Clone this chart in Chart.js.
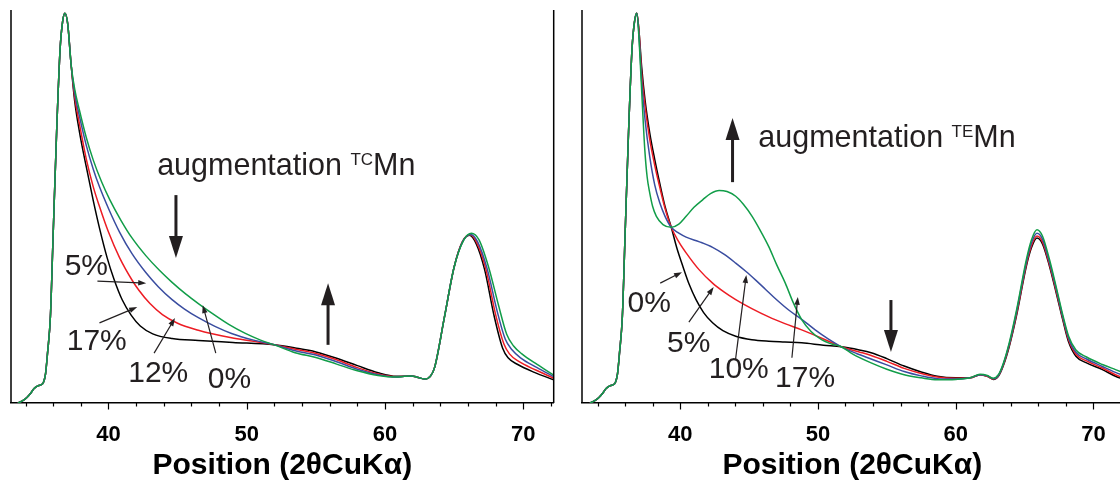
<!DOCTYPE html>
<html><head><meta charset="utf-8">
<script src="https://cdn.jsdelivr.net/npm/chart.js@4/dist/chart.umd.min.js"></script>
<style>
html,body{margin:0;padding:0;background:#fff;overflow:hidden;width:1120px;height:485px;position:relative}
#c1{position:absolute;left:0;top:0}
#c2{position:absolute;left:570px;top:0}
</style></head>
<body>
<canvas id="c1" width="570" height="485"></canvas>
<canvas id="c2" width="570" height="485"></canvas>
<script>
// ---------- DATA ----------
const seriesNames = ['0%', '5%', '12%', '17%'];
const seriesColors = ['#000000', '#ed1c24', '#3a4da0', '#119d48'];

// shared rising edge (identical for all series)
const riseX = [33.45, 33.8, 34.1, 34.4, 34.6, 34.85, 35.1, 35.3, 35.45, 35.6, 35.8, 36.0, 36.25, 36.5, 36.68, 36.85, 37.05, 37.3];
const riseY = [0, 0.6, 1.4, 2.6, 3.6, 4.3, 4.6, 5.3, 7.5, 13, 22, 43, 69, 90, 97, 99.2, 96.5, 86];

// left panel (TC Mn)
const leftBlackX = [37.55, 37.9, 38.4, 38.9, 39.35, 39.9, 40.4, 41.0, 41.65, 42.3, 43.2, 44.6, 46.5, 49.0, 52.0, 53.5, 55.0, 56.5, 58.0, 59.5, 60.8, 61.4, 61.9, 62.4, 62.9, 63.3, 63.6, 64.3, 65.0, 65.6, 66.1, 66.6, 67.2, 67.9, 68.5, 68.9, 69.6, 70.8, 72.2];
const leftBlackY = [77, 69, 60, 51.5, 44.5, 37, 31.5, 26.2, 22.3, 19.6, 17.6, 16.4, 15.9, 15.4, 14.8, 14.0, 13.0, 11.4, 9.5, 7.7, 6.8, 6.8, 6.9, 6.5, 6.1, 6.9, 9.2, 21.9, 34.6, 41, 42.7, 40.5, 34, 22, 14, 11.5, 9.8, 7.8, 5.9];
const leftRedX = [37.55, 37.9, 38.4, 38.9, 39.35, 40.0, 40.8, 41.7, 42.2, 43.0, 43.9, 45.0, 46.5, 47.5, 48.9, 50.5, 52.0, 53.5, 55.0, 56.5, 58.0, 59.5, 60.8, 61.4, 61.9, 62.4, 62.9, 63.3, 63.6, 64.3, 65.0, 65.6, 66.15, 66.65, 67.3, 68.0, 68.6, 69.0, 69.7, 70.9, 72.2];
const leftRedY = [78, 71, 62, 55, 50, 43.5, 37, 31.3, 28.7, 25.3, 22.5, 20.3, 18.5, 17.6, 16.6, 15.7, 14.8, 13.7, 12.6, 11.0, 9.0, 7.4, 6.7, 6.8, 6.9, 6.5, 6.1, 6.9, 9.2, 21.9, 34.6, 41.1, 42.8, 40.7, 34, 22.5, 15, 12.5, 10.5, 8.4, 6.3];
const leftBlueX = [37.55, 37.9, 38.4, 38.9, 39.35, 40.0, 40.8, 41.7, 42.7, 43.6, 44.6, 45.5, 46.5, 47.7, 48.9, 50.5, 52.0, 53.5, 55.0, 56.5, 58.0, 59.5, 60.8, 61.4, 61.9, 62.4, 62.9, 63.3, 63.6, 64.3, 65.0, 65.65, 66.2, 66.7, 67.4, 68.1, 68.7, 69.2, 69.8, 71.0, 72.2];
const leftBlueY = [79, 73, 65.5, 59.5, 55, 49.5, 43.5, 38, 33.2, 29.6, 26.3, 23.9, 21.7, 19.5, 17.7, 16.0, 14.8, 13.3, 12.2, 10.5, 8.6, 7.2, 6.6, 6.8, 6.9, 6.5, 6.1, 6.9, 9.2, 21.9, 34.6, 41.3, 42.9, 41, 34, 23.5, 16.2, 13.5, 11.5, 9, 6.7];
const leftGreenX = [37.55, 37.9, 38.4, 38.9, 39.5, 40.1, 40.9, 41.7, 42.7, 43.7, 44.6, 45.6, 46.5, 47.5, 48.7, 49.9, 51.0, 52.0, 53.5, 55.0, 56.5, 58.0, 59.5, 60.8, 61.4, 61.9, 62.4, 62.9, 63.3, 63.6, 64.3, 65.0, 65.7, 66.25, 66.8, 67.5, 68.2, 68.8, 69.3, 69.9, 71.0, 72.2];
const leftGreenY = [80, 74.5, 67.5, 61.8, 56.3, 51.7, 46.5, 42.0, 37.5, 33.7, 30.7, 27.7, 25.3, 22.8, 20.0, 17.7, 16.0, 14.8, 12.8, 11.6, 9.9, 8.2, 7.0, 6.6, 6.8, 6.9, 6.5, 6.1, 6.9, 9.2, 21.9, 34.6, 41.5, 43.2, 41.5, 34.5, 25, 17.5, 14.5, 12.5, 9.8, 7.1];

// right panel (TE Mn) – rise shares riseX/riseY up to the peak
const rightRiseCount = 16;
const rightBlackX = [37.0, 37.2, 37.45, 37.79, 38.15, 38.51, 38.9, 39.35, 39.75, 40.19, 40.65, 41.15, 41.7, 42.35, 43.1, 44.03, 45.2, 46.43, 47.6, 48.82, 50.4, 51.7, 53.0, 53.86, 55.0, 56.26, 57.5, 58.66, 60.0, 61.05, 61.77, 62.3, 62.73, 63.1, 63.45, 63.9, 64.41, 65.13, 65.5, 65.9, 66.3, 66.81, 67.3, 67.77, 68.2, 68.73, 69.5, 70.65, 71.6, 72.2];
const rightBlackY = [95, 85.6, 77, 68.7, 62, 56, 50, 44.7, 39.5, 34.8, 30.2, 26.3, 23, 20.4, 18.4, 17, 16.1, 15.7, 15.5, 15.3, 14.7, 14.3, 13.5, 12.8, 11.3, 9.4, 7.9, 6.8, 6.4, 6.4, 7.2, 6.8, 6.0, 6.8, 9.4, 14.5, 22.1, 34.8, 39.5, 42.0, 40.5, 34.8, 28, 21.2, 15.5, 11.9, 10.2, 8.5, 6.8, 6.0];
const rightRedX = [37.0, 37.2, 37.45, 37.79, 38.15, 38.51, 38.9, 39.35, 39.9, 40.43, 41.35, 42.35, 43.2, 44.03, 45.2, 46.43, 47.6, 48.82, 50.4, 51.7, 53.0, 53.86, 55.0, 56.26, 57.5, 58.66, 60.0, 61.05, 61.77, 62.3, 62.73, 63.1, 63.45, 63.9, 64.41, 65.13, 65.5, 65.9, 66.3, 66.81, 67.3, 67.77, 68.2, 68.73, 69.5, 70.65, 71.6, 72.2];
const rightRedY = [95, 84, 75.5, 67, 60.5, 55, 49.5, 44.7, 41, 38.2, 34, 30.5, 28.2, 26.3, 24, 21.9, 20.2, 18.6, 16.3, 14.3, 13.0, 12.1, 10.6, 8.8, 7.5, 6.6, 6.3, 6.4, 7.2, 6.8, 6.1, 6.9, 9.6, 14.8, 22.5, 35.2, 40, 42.5, 41, 35.2, 28.4, 21.6, 16, 12.4, 10.7, 8.9, 7.2, 6.4];
const rightBlueX = [37.0, 37.2, 37.45, 37.79, 38.15, 38.51, 38.9, 39.35, 39.9, 40.43, 41.4, 42.35, 43.2, 44.03, 44.8, 45.5, 46.2, 46.9, 47.9, 48.82, 49.8, 50.74, 51.7, 52.8, 53.86, 55.0, 56.26, 57.5, 58.66, 60.0, 61.05, 61.77, 62.3, 62.73, 63.1, 63.45, 63.9, 64.41, 65.13, 65.5, 65.9, 66.3, 66.81, 67.3, 67.77, 68.2, 68.73, 69.5, 70.65, 71.6, 72.2];
const rightBlueY = [94, 82, 72, 62.6, 55.5, 51, 47.5, 44.7, 43.2, 42.2, 41, 39.6, 37.8, 35.6, 33.4, 31.2, 28.9, 26.6, 23.6, 21.3, 18.6, 16.3, 14.3, 12.6, 11.2, 9.7, 8.0, 6.9, 6.2, 6.1, 6.4, 7.2, 6.9, 6.2, 7.0, 9.8, 15.1, 23, 35.8, 40.7, 43.2, 41.7, 35.8, 29, 22, 16.5, 12.9, 11.2, 9.3, 7.8, 7.0];
const rightGreenX = [37.05, 37.25, 37.43, 37.6, 37.79, 38.0, 38.27, 38.75, 39.35, 39.9, 40.43, 41.0, 41.63, 42.2, 42.83, 43.4, 44.03, 44.6, 45.22, 45.8, 46.43, 47.0, 47.63, 48.2, 48.82, 49.5, 50.26, 51.0, 51.7, 52.5, 53.86, 55.0, 56.26, 57.5, 58.66, 60.0, 61.05, 61.77, 62.3, 62.73, 63.1, 63.45, 63.9, 64.41, 65.13, 65.5, 65.9, 66.3, 66.81, 67.3, 67.77, 68.2, 68.73, 69.5, 70.65, 71.6, 72.2];
const rightGreenY = [90, 76, 64.4, 57.5, 53.4, 50, 47.5, 45.4, 44.7, 45.5, 47.5, 49.8, 51.7, 53.3, 54.1, 53.8, 52.6, 50.5, 47.5, 44, 39.8, 35.2, 30.5, 25.6, 21.2, 18.2, 16.1, 15.0, 14.3, 12.5, 10.2, 8.6, 7.2, 6.4, 5.9, 6.0, 6.4, 7.3, 7.0, 6.3, 7.2, 10, 15.5, 23.5, 36.5, 41.5, 44.1, 42.5, 36.5, 29.5, 22.5, 17, 13.5, 11.7, 9.8, 8.5, 7.7];

// axis
const xTickStep = 2;
const xLabelStep = 10;
const axisTitle = 'Position (2θCuKα)';

// annotations (data coordinates)
const leftHeading = {x: 43.52, y: 58.0, main: 'augmentation ', sup: 'TC', tail: 'Mn'};
const leftBigArrows = [{x: 44.88, y1: 52.9, y2: 36.9}, {x: 55.88, y1: 14.8, y2: 30.5}];
const leftLabels = [
  {t: '5%', x: 36.83, y: 32.6, ax1: 39.2, ay1: 31.0, ax2: 42.73, ay2: 30.5},
  {t: '17%', x: 36.98, y: 13.5, ax1: 39.35, ay1: 20.4, ax2: 42.08, ay2: 24.4},
  {t: '12%', x: 41.43, y: 5.3, ax1: 43.3, ay1: 12.7, ax2: 44.81, ay2: 21.6},
  {t: '0%', x: 47.18, y: 3.8, ax1: 47.76, ay1: 12.7, ax2: 46.82, ay2: 24.9}
];
const rightHeading = {x: 45.67, y: 65.1, main: 'augmentation ', sup: 'TE', tail: 'Mn'};
const rightBigArrows = [{x: 43.8, y1: 56.2, y2: 72.5}, {x: 55.3, y1: 26.2, y2: 13.0}];
const rightLabels = [
  {t: '0%', x: 36.18, y: 23.2, ax1: 38.55, ay1: 30.5, ax2: 40.13, ay2: 33.3},
  {t: '5%', x: 39.05, y: 13.0, ax1: 40.63, ay1: 20.6, ax2: 42.43, ay2: 29.5},
  {t: '10%', x: 42.07, y: 6.4, ax1: 44.01, ay1: 10.9, ax2: 44.80, ay2: 32.6},
  {t: '17%', x: 46.89, y: 4.1, ax1: 48.11, ay1: 11.5, ax2: 48.54, ay2: 27.0}
];

// ---------- BUILD ----------
function pts(xs, ys) { return xs.map((x, i) => ({x, y: ys[i]})); }
function withRise(xs, ys, n) {
  const k = n || riseX.length;
  return pts(riseX.slice(0, k).concat(xs), riseY.slice(0, k).concat(ys));
}
const FONT = 'Arial, "Liberation Sans", Helvetica, sans-serif';
const INK = '#231f20';

const frame = {
  id: 'frame',
  afterDraw(chart, args, o) {
    const {ctx, chartArea: a, scales: {x}} = chart;
    ctx.save();
    ctx.strokeStyle = '#000';
    ctx.lineWidth = 1.5;
    ctx.beginPath();
    ctx.moveTo(a.left, a.top); ctx.lineTo(a.left, a.bottom);
    if (o.right) { ctx.moveTo(a.right, a.top); ctx.lineTo(a.right, a.bottom); }
    ctx.stroke();
    ctx.lineWidth = 1.2;
    ctx.beginPath();
    x.ticks.forEach(t => {
      const px = Math.round(x.getPixelForValue(t.value)) + 0.5;
      const major = Math.abs(t.value % xLabelStep) < 1e-6;
      ctx.moveTo(px, a.bottom); ctx.lineTo(px, a.bottom + (major ? 6.5 : 3.5));
    });
    ctx.stroke();
    ctx.restore();
  }
};

function arrowHead(ctx, x1, y1, x2, y2, len, wid) {
  const ang = Math.atan2(y2 - y1, x2 - x1);
  ctx.beginPath();
  ctx.moveTo(x2, y2);
  ctx.lineTo(x2 - len * Math.cos(ang) + wid / 2 * Math.sin(ang), y2 - len * Math.sin(ang) - wid / 2 * Math.cos(ang));
  ctx.lineTo(x2 - len * Math.cos(ang) - wid / 2 * Math.sin(ang), y2 - len * Math.sin(ang) + wid / 2 * Math.cos(ang));
  ctx.closePath();
  ctx.fill();
}

const notes = {
  id: 'notes',
  afterDatasetsDraw(chart, args, o) {
    const {ctx, scales: {x, y}} = chart;
    ctx.save();
    ctx.fillStyle = INK; ctx.strokeStyle = INK;
    ctx.textBaseline = 'alphabetic'; ctx.textAlign = 'left';
    const h = o.heading;
    let hx = x.getPixelForValue(h.x), hy = y.getPixelForValue(h.y);
    ctx.font = '30.5px ' + FONT;
    ctx.fillText(h.main, hx, hy); hx += ctx.measureText(h.main).width;
    ctx.font = '17px ' + FONT;
    ctx.fillText(h.sup, hx, hy - 10); hx += ctx.measureText(h.sup).width;
    ctx.font = '30.5px ' + FONT;
    ctx.fillText(h.tail, hx, hy);
    o.big.forEach(b => {
      const px = x.getPixelForValue(b.x), p1 = y.getPixelForValue(b.y1), p2 = y.getPixelForValue(b.y2);
      const dir = Math.sign(p2 - p1);
      ctx.lineWidth = 3;
      ctx.beginPath(); ctx.moveTo(px, p1); ctx.lineTo(px, p2 - dir * 18); ctx.stroke();
      arrowHead(ctx, px, p1, px, p2, 22, 14);
    });
    ctx.font = '30px ' + FONT;
    o.labels.forEach(l => {
      ctx.fillText(l.t, x.getPixelForValue(l.x), y.getPixelForValue(l.y));
      const x1 = x.getPixelForValue(l.ax1), y1 = y.getPixelForValue(l.ay1);
      const x2 = x.getPixelForValue(l.ax2), y2 = y.getPixelForValue(l.ay2);
      const ang = Math.atan2(y2 - y1, x2 - x1);
      ctx.lineWidth = 1.2;
      ctx.beginPath(); ctx.moveTo(x1, y1); ctx.lineTo(x2 - 6 * Math.cos(ang), y2 - 6 * Math.sin(ang)); ctx.stroke();
      arrowHead(ctx, x1, y1, x2, y2, 8, 5.5);
    });
    ctx.restore();
  }
};

function makeChart(id, sets, xmin, xmax, pad, o) {
  return new Chart(document.getElementById(id), {
    type: 'line',
    data: {
      datasets: sets.map((d, i) => ({
        label: seriesNames[i], data: d,
        borderColor: seriesColors[i], borderWidth: 1.5,
        pointRadius: 0, fill: false, tension: 0.4,
        cubicInterpolationMode: 'monotone', order: 3 - i
      }))
    },
    options: {
      responsive: false, animation: false, devicePixelRatio: 1,
      layout: {padding: pad},
      plugins: {legend: {display: false}, tooltip: {enabled: false},
        frame: {right: o.right},
        notes: {heading: o.heading, big: o.big, labels: o.labels}},
      scales: {
        x: {
          type: 'linear', min: xmin, max: xmax,
          afterFit: s => { s.height = 82; },
          grid: {display: false, drawTicks: false},
          border: {display: true, color: '#000', width: 1.5},
          ticks: {
            stepSize: xTickStep, includeBounds: false, autoSkip: false, maxRotation: 0,
            padding: 19, color: '#000',
            font: {family: FONT, size: 22, weight: 'bold'},
            callback: v => Math.abs(v % xLabelStep) < 1e-6 ? String(v) : ''
          },
          title: {display: true, text: axisTitle, color: '#000',
            font: {family: FONT, size: 30, weight: 'bold'}, padding: {top: 0, bottom: 1}}
        },
        y: {display: false, min: 0, max: 100}
      }
    },
    plugins: [frame, notes]
  });
}

makeChart('c1', [
  withRise(leftBlackX, leftBlackY), withRise(leftRedX, leftRedY),
  withRise(leftBlueX, leftBlueY), withRise(leftGreenX, leftGreenY)
], 32.95, 72.2, {left: 11, right: 13, top: 10, bottom: 0},
  {right: true, heading: leftHeading, big: leftBigArrows, labels: leftLabels});

makeChart('c2', [
  withRise(rightBlackX, rightBlackY, rightRiseCount), withRise(rightRedX, rightRedY, rightRiseCount),
  withRise(rightBlueX, rightBlueY, rightRiseCount), withRise(rightGreenX, rightGreenY, rightRiseCount)
], 32.87, 72.12, {left: 12, right: 12, top: 10, bottom: 0},
  {right: false, heading: rightHeading, big: rightBigArrows, labels: rightLabels});
</script>
</body></html>
